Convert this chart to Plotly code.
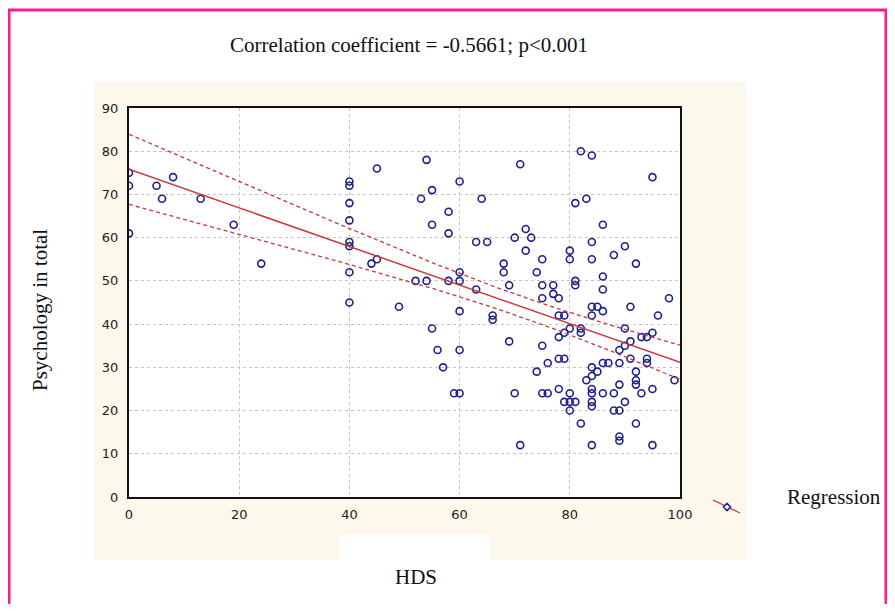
import numpy as np
import plotly.graph_objects as go

# ---- data (HDS vs Psychology in total) ----
hds = [0, 0, 0, 5, 6, 8, 13, 19, 24,
       40, 40, 40, 40, 40, 40, 40, 40,
       44, 45, 45,
       49, 52, 53, 54, 54, 55, 55, 55, 56, 57,
       58, 58, 58, 59, 60, 60, 60, 60, 60, 60,
       63, 65, 64, 63, 66, 66,
       68, 68, 69, 69, 70, 70, 71, 71, 72, 72, 73,
       74, 74, 75, 75, 75, 75, 75, 76, 76, 77, 77,
       78, 78, 78, 78, 78, 79, 79, 79, 79,
       80, 80, 80, 80, 80, 80, 81, 81, 81, 81,
       82, 82, 82, 82, 83, 83,
       84, 84, 84, 84, 84, 84, 84, 84, 84, 84, 84, 84,
       85, 85, 86, 86, 86, 86, 86, 86, 87,
       88, 88, 88, 89, 89, 89, 89, 89, 89,
       90, 90, 90, 90, 91, 91, 91,
       92, 92, 92, 92, 92, 93, 93, 94, 94, 94,
       95, 95, 95, 95, 96, 98, 99]
psych = [75, 72, 61, 72, 69, 74, 69, 63, 54,
         73, 72, 68, 64, 59, 58, 52, 45,
         54, 55, 76,
         44, 50, 69, 78, 50, 71, 63, 39, 34, 30,
         66, 61, 50, 24, 24, 73, 52, 50, 43, 34,
         59, 59, 69, 48, 42, 41,
         54, 52, 49, 36, 60, 24, 77, 12, 62, 57, 60,
         52, 29, 55, 49, 46, 35, 24, 31, 24, 49, 47,
         46, 42, 37, 32, 25, 42, 38, 32, 22,
         57, 55, 39, 24, 22, 20, 68, 50, 49, 22,
         80, 39, 38, 17, 69, 27,
         79, 59, 55, 44, 42, 30, 28, 25, 24, 22, 21, 12,
         44, 29, 63, 51, 48, 43, 31, 24, 31,
         56, 24, 20, 34, 31, 26, 20, 14, 13,
         58, 39, 35, 22, 44, 36, 32,
         54, 29, 27, 26, 17, 37, 24, 37, 32, 31,
         74, 38, 25, 12, 42, 46, 27]

x_ticks = [0, 20, 40, 60, 80, 100]
y_ticks = [0, 10, 20, 30, 40, 50, 60, 70, 80, 90]
title_text = "Correlation coefficient = -0.5661; p<0.001"
x_title = "HDS"
y_title = "Psychology in total"
legend_text = "Regression"

# ---- regression with 95% confidence band ----
xa = np.array(hds, float)
ya = np.array(psych, float)
n = len(xa)
slope, intercept = np.polyfit(xa, ya, 1)
resid = ya - (intercept + slope * xa)
s = np.sqrt(np.sum(resid ** 2) / (n - 2))
xm = xa.mean()
sxx = np.sum((xa - xm) ** 2)
t_val = 1.976
xl = np.linspace(0, 100, 101)
yl = intercept + slope * xl
hw = t_val * s * np.sqrt(1.0 / n + (xl - xm) ** 2 / sxx)

# page has an 8px body margin: figure pixel = screen pixel - 8
OFF = 8
W, H = 895 - 2 * OFF, 612 - 2 * OFF
L, R, T, B = 129 - OFF, 680 - OFF, 108 - OFF, 497 - OFF


def px(v):  # screen x pixel -> paper
    return (v - OFF - L) / (R - L)


def py(v):  # screen y pixel -> paper
    return (B - (v - OFF)) / (B - T)


red = "#c8383c"
navy = "#20208a"

fig = go.Figure()
fig.add_trace(go.Scatter(x=xa, y=ya, mode="markers", showlegend=False,
                         marker=dict(symbol="circle-open", size=7, color=navy,
                                     line=dict(width=1.6, color=navy))))
fig.add_trace(go.Scatter(x=xl, y=yl, mode="lines", showlegend=False,
                         line=dict(color=red, width=1.5)))
fig.add_trace(go.Scatter(x=xl, y=yl + hw, mode="lines", showlegend=False,
                         line=dict(color=red, width=1.3, dash="4px,3px")))
fig.add_trace(go.Scatter(x=xl, y=yl - hw, mode="lines", showlegend=False,
                         line=dict(color=red, width=1.3, dash="4px,3px")))

shapes = [
    dict(type="rect", xref="paper", yref="paper", layer="below",
         x0=px(94), x1=px(746), y0=py(560), y1=py(82),
         fillcolor="#fdf8ec", line=dict(width=0)),
    dict(type="rect", xref="paper", yref="paper", layer="below",
         x0=px(340), x1=px(490), y0=py(562), y1=py(535),
         fillcolor="white", line=dict(width=0)),
    dict(type="rect", xref="paper", yref="paper", layer="below",
         x0=0, x1=1, y0=0, y1=1, fillcolor="white", line=dict(width=0)),
    dict(type="rect", xref="paper", yref="paper", layer="above",
         x0=px(9), x1=px(886), y0=py(660), y1=py(10),
         fillcolor="rgba(0,0,0,0)", line=dict(color="#ff1a8c", width=3)),
    dict(type="line", xref="paper", yref="paper",
         x0=px(713), y0=py(500), x1=px(740), y1=py(513),
         line=dict(color=red, width=1.3)),
    dict(type="path", xref="paper", yref="paper",
         path=f"M {px(723.5)},{py(507)} L {px(727)},{py(503.5)} L {px(730.5)},{py(507)} L {px(727)},{py(510.5)} Z",
         fillcolor="white", line=dict(color=navy, width=1.6)),
]

serif = "Liberation Serif, Times New Roman, serif"
annotations = [
    dict(text=title_text, xref="paper", yref="paper", x=px(409), y=py(45),
         xanchor="center", yanchor="middle", showarrow=False,
         font=dict(family=serif, size=21, color="#111")),
    dict(text=y_title, xref="paper", yref="paper", x=px(40), y=py(310),
         xanchor="center", yanchor="middle", showarrow=False, textangle=-90,
         font=dict(family=serif, size=21, color="#111")),
    dict(text=x_title, xref="paper", yref="paper", x=px(416), y=py(577),
         xanchor="center", yanchor="middle", showarrow=False,
         font=dict(family=serif, size=21, color="#111")),
    dict(text=legend_text, xref="paper", yref="paper", x=px(785), y=py(497),
         xanchor="left", yanchor="middle", showarrow=False,
         font=dict(family=serif, size=21, color="#111")),
]

tickfont = dict(family="DejaVu Sans, Arial, sans-serif", size=13, color="#222")
fig.update_layout(
    width=W, height=H,
    margin=dict(l=L, r=W - R, t=T, b=H - B, pad=0),
    paper_bgcolor="white", plot_bgcolor="white",
    shapes=shapes, annotations=annotations, showlegend=False,
    xaxis=dict(range=[0, 100], tickvals=x_ticks, ticks="", showline=True,
               linecolor="#111", linewidth=2, mirror=True, zeroline=False,
               showgrid=True, gridcolor="#c4c4c4", griddash="dot", gridwidth=1,
               tickfont=tickfont, ticklabelstandoff=4),
    yaxis=dict(range=[0, 90], tickvals=y_ticks, ticks="", showline=True,
               linecolor="#111", linewidth=2, mirror=True, zeroline=False,
               showgrid=True, gridcolor="#c4c4c4", griddash="dot", gridwidth=1,
               tickfont=tickfont, ticklabelstandoff=6),
)

fig.write_html("out.html")
